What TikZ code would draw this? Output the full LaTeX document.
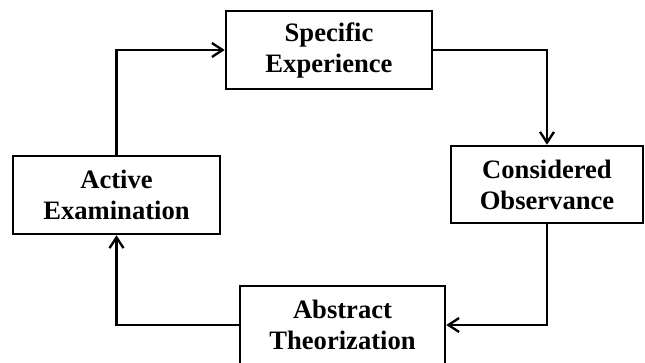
\documentclass[tikz,border=0pt]{standalone}
\usepackage{fontspec}
\setmainfont{Liberation Serif}
\usetikzlibrary{arrows.meta}

\tikzset{
    stage/.style={draw, line width=2.2pt, rectangle, align=center,
        font=\fontsize{22.7}{26.5}\selectfont\bfseries, inner sep=0pt},
    flow/.style={line width=2.2pt, -{Straight Barb[length=0.32cm, width=0.42cm, line width=2pt]}}
}

\begin{document}
\begin{tikzpicture}
    \useasboundingbox (0,0) rectangle (19.35,10.89);

    % Stages of the cycle
    \node[stage, minimum width=6.18cm, minimum height=2.34cm] (spec) at (9.87, 9.39) {Specific\\Experience};
    \node[stage, minimum width=5.76cm, minimum height=2.31cm] (obs) at (16.41, 5.355) {Considered\\Observance};
    \node[stage, minimum width=6.15cm, minimum height=2.34cm] (abs) at (10.275, 1.14) {Abstract\\Theorization};
    \node[stage, minimum width=6.21cm, minimum height=2.34cm] (act) at (3.495, 5.04) {Active\\Examination};

    % Arrows round the cycle
    \draw[flow] (spec.east) -| (obs.north);
    \draw[flow] (obs.south) |- (abs.east);
    \draw[flow] (abs.west) -| (act.south);
    \draw[flow] (act.north) |- (spec.west);

\end{tikzpicture}
\end{document}
